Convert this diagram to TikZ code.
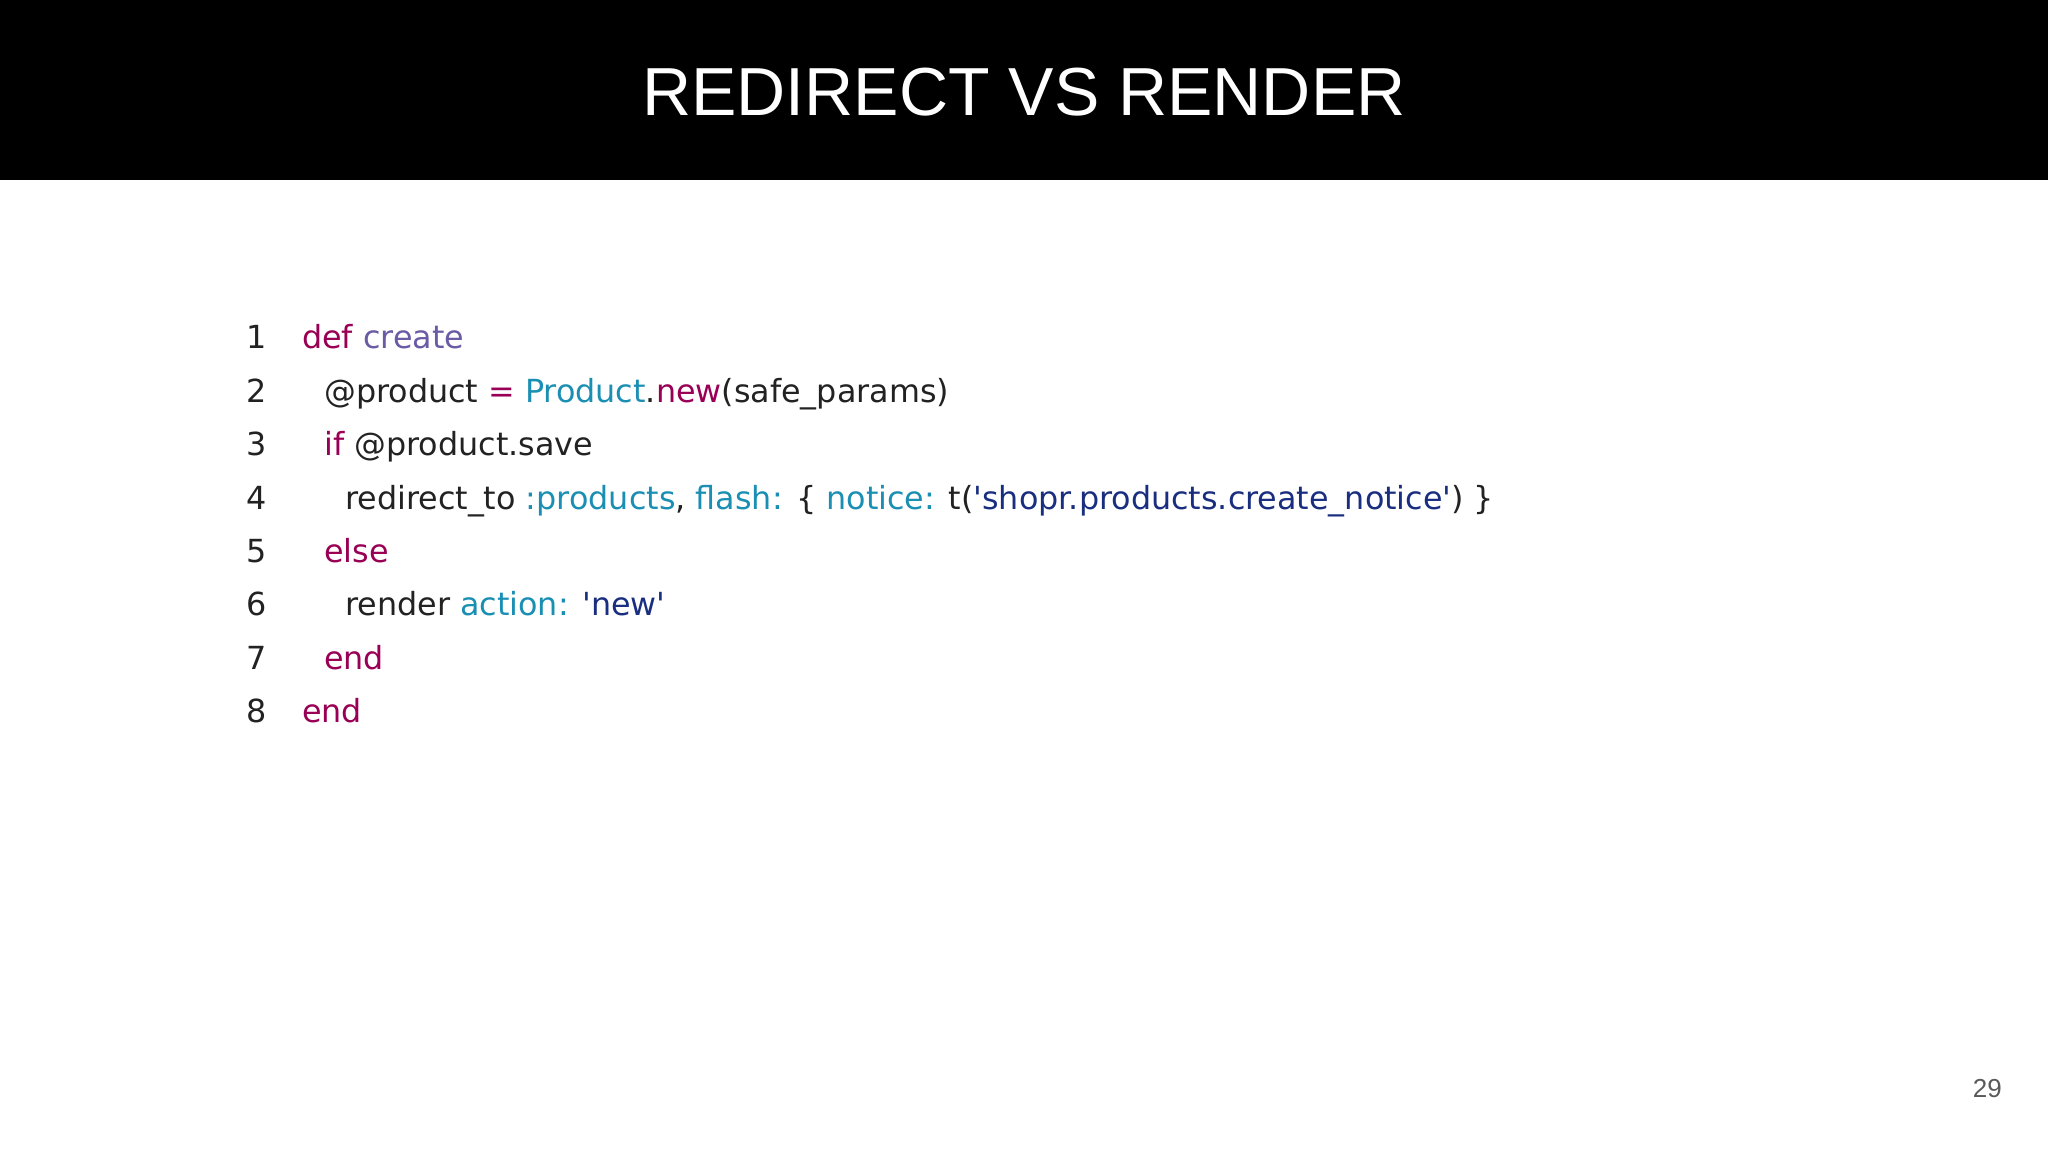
\documentclass[tikz,border=0pt]{standalone}
\usepackage{fontspec}
\setmainfont{Liberation Sans}
\newfontfamily\codefont{DejaVu Sans}
\definecolor{kw}{HTML}{990055}
\definecolor{fn}{HTML}{6B5BA5}
\definecolor{cl}{HTML}{1B8FB3}
\definecolor{st}{HTML}{1A2E80}
\definecolor{tx}{HTML}{222222}
\newcommand{\K}[1]{\textcolor{kw}{#1}}
\newcommand{\F}[1]{\textcolor{fn}{#1}}
\newcommand{\C}[1]{\textcolor{cl}{#1}}
\newcommand{\Sq}[1]{\textcolor{st}{#1}}
\tikzset{x=1pt,y=1pt,
  code/.style={anchor=base west,inner sep=0,font=\codefont\fontsize{31.8}{36}\selectfont,text=tx},
  lnum/.style={anchor=base east,inner sep=0,font=\codefont\fontsize{31.8}{36}\selectfont,text=tx}}
\begin{document}
\begin{tikzpicture}
\useasboundingbox (0,0) rectangle (2048,1152);
\fill[black] (0,972) rectangle (2048,1152);
\node[text=white,font=\fontsize{68}{72}\selectfont] (title) at (1024,1060) {REDIRECT VS RENDER};
\foreach \n in {1,...,8} {\node[lnum] (n\n) at (267,{1152-349-(\n-1)*53.4}) {\n};}
\node[code] (l1) at (302,{1152-349}) {\K{def} \F{create}};
\node[code] (l2) at (324,{1152-349-53.4}) {@product \K{=} \C{Product}.\K{new}(safe\_params)};
\node[code] (l3) at (324,{1152-349-2*53.4}) {\K{if} @product.save};
\node[code] (l4) at (345,{1152-349-3*53.4}) {redirect\_to \C{:products}, \C{flash:} \{ \C{notice:} t(\Sq{'shopr.products.create\_notice'}) \}};
\node[code] (l5) at (324,{1152-349-4*53.4}) {\K{else}};
\node[code] (l6) at (345,{1152-349-5*53.4}) {render \C{action:} \Sq{'new'}};
\node[code] (l7) at (324,{1152-349-6*53.4}) {\K{end}};
\node[code] (l8) at (302,{1152-349-7*53.4}) {\K{end}};
\node[anchor=base east,inner sep=0,text=black!65,font=\fontsize{26}{30}\selectfont] (pg) at (2002,1152-1097) {29};
\end{tikzpicture}
\end{document}
